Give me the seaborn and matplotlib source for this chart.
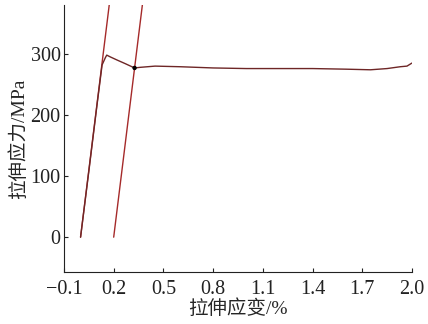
import matplotlib
matplotlib.use("Agg")
import matplotlib.pyplot as plt
import seaborn as sns
import numpy as np
import pandas as pd

# Data
curve_strain = [0.0, 0.05, 0.10, 0.13, 0.15, 0.158, 0.18, 0.22, 0.27, 0.326, 0.36, 0.45,
                0.6, 0.8, 1.0, 1.2, 1.4, 1.6, 1.75, 1.85, 1.93, 1.97, 2.0]
curve_stress = [0, 108, 218, 282, 294, 298, 295, 290, 284, 277, 278, 280,
                279, 277, 276, 276, 276, 275, 274, 276, 279, 280, 285]
line1_strain = [0.0, 0.173]
line1_stress = [0, 380]
line2_strain = [0.2, 0.373]
line2_stress = [0, 380]
yield_strain = [0.326]
yield_stress = [277]
xticks = [-0.1, 0.2, 0.5, 0.8, 1.1, 1.4, 1.7, 2.0]
yticks = [0, 100, 200, 300]

sns.set_style("ticks")
plt.rcParams['font.family'] = ['Liberation Serif', 'Noto Sans CJK SC']
plt.rcParams['axes.unicode_minus'] = True

fig = plt.figure(figsize=(4.28, 3.24), dpi=100)
ax = fig.add_axes([0.1495, 0.1605, 0.813, 0.824])

line_col = '#a52a2a'
curve_col = '#6e2626'
df1 = pd.DataFrame({'x': line1_strain, 'y': line1_stress})
df2 = pd.DataFrame({'x': line2_strain, 'y': line2_stress})
dfc = pd.DataFrame({'x': curve_strain, 'y': curve_stress})
sns.lineplot(data=df1, x='x', y='y', ax=ax, color=line_col, lw=1.0, sort=False)
sns.lineplot(data=df2, x='x', y='y', ax=ax, color=line_col, lw=1.0, sort=False)
sns.lineplot(data=dfc, x='x', y='y', ax=ax, color=curve_col, lw=1.0, sort=False)
sns.scatterplot(x=yield_strain, y=yield_stress, ax=ax, color='black', s=10, zorder=5, edgecolor='none')

ax.set_xlim(-0.1, 2.0)
ax.set_ylim(-57, 380)
ax.set_xticks(xticks)
ax.set_xticklabels([f"{v:.1f}".replace('-', '\u2212') for v in xticks])
ax.set_yticks(yticks)
ax.tick_params(direction='in', labelsize=14.5, length=3, width=0.8, colors='#222222')
ax.tick_params(axis='x', pad=6)
ax.tick_params(axis='y', pad=2.5)
for s in ['top', 'right']:
    ax.spines[s].set_visible(False)
for s in ['left', 'bottom']:
    ax.spines[s].set_linewidth(0.8)
    ax.spines[s].set_color('#222222')
ax.set_xlabel('拉伸应变/%', fontsize=14, labelpad=0)
ax.set_ylabel('拉伸应力/MPa', fontsize=14, labelpad=2)

fig.savefig('out.png', dpi=100)
